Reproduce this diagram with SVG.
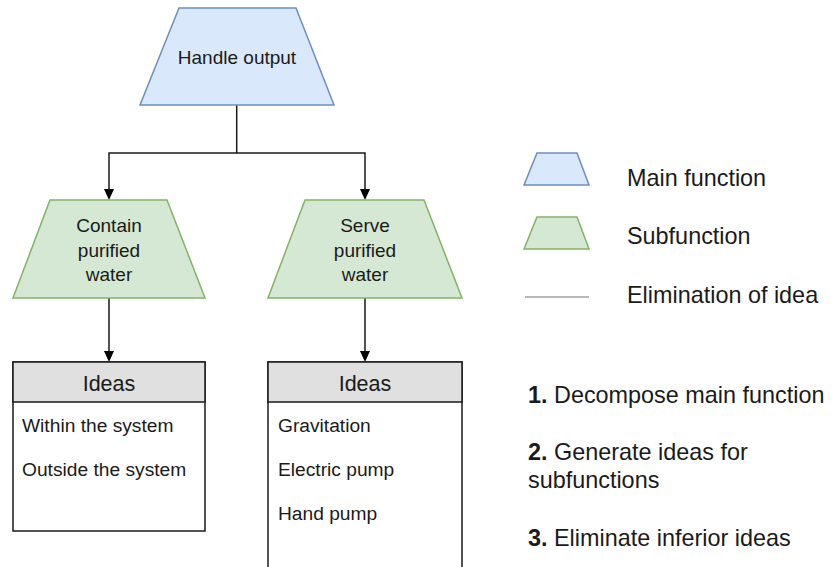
<svg xmlns="http://www.w3.org/2000/svg" width="833" height="567" viewBox="0 0 833 567">
<defs>
<style>
text{font-family:"Liberation Sans",Arial,sans-serif;fill:#1a1a1a}
.node{font-size:19px;text-anchor:middle}
.item{font-size:19.2px}
.hdr{font-size:21.5px;text-anchor:middle}
.leg{font-size:23.4px}
.main{fill:#dae8fc;stroke:#6c8ebf;stroke-width:1.5}
.sub{fill:#d5e8d4;stroke:#82b366;stroke-width:1.5}
.conn{fill:none;stroke:#1a1a1a;stroke-width:1.5}
.box{fill:#ffffff;stroke:#1a1a1a;stroke-width:1.5}
.head{fill:#e0e0e0;stroke:#1a1a1a;stroke-width:1.5}
.tip{fill:#000000}
</style>
</defs>
<rect width="833" height="567" fill="#ffffff"/>
<g id="connectors">
<path class="conn" d="M236.7,105 V153 H109 V190"/>
<path class="conn" d="M236.7,153 H365 V190"/>
<path class="conn" d="M109,298 V352"/>
<path class="conn" d="M365,298 V352"/>
<path class="tip" d="M104,189 L114,189 L109,200 Z"/>
<path class="tip" d="M360,189 L370,189 L365,200 Z"/>
<path class="tip" d="M104,351 L114,351 L109,362 Z"/>
<path class="tip" d="M360,351 L370,351 L365,362 Z"/>
</g>
<g id="handle-output">
<polygon class="main" points="179,8 296,8 334,105 140,105"/>
<text class="node" x="237" y="64">Handle output</text>
</g>
<g id="contain-purified-water">
<polygon class="sub" points="50,200 167,200 205,298 13,298"/>
<text class="node" x="109" y="232">Contain</text>
<text class="node" x="109" y="257">purified</text>
<text class="node" x="109" y="281">water</text>
</g>
<g id="serve-purified-water">
<polygon class="sub" points="305,200 424,200 462,298 268,298"/>
<text class="node" x="365" y="232">Serve</text>
<text class="node" x="365" y="257">purified</text>
<text class="node" x="365" y="281">water</text>
</g>
<g id="ideas-left">
<rect class="box" x="13" y="362" width="192" height="169"/>
<rect class="head" x="13" y="362" width="192" height="40"/>
<text class="hdr" x="109" y="391">Ideas</text>
<text class="item" x="22" y="432">Within the system</text>
<text class="item" x="22" y="476">Outside the system</text>
</g>
<g id="ideas-right">
<rect class="box" x="268" y="362" width="194" height="240"/>
<rect class="head" x="268" y="362" width="194" height="40"/>
<text class="hdr" x="365" y="391">Ideas</text>
<text class="item" x="278" y="432">Gravitation</text>
<text class="item" x="278" y="476">Electric pump</text>
<text class="item" x="278" y="520">Hand pump</text>
</g>
<g id="legend">
<polygon class="main" points="537,153 577,153 589,185 524,185"/>
<text class="leg" x="627" y="186">Main function</text>
<polygon class="sub" points="537,217 577,217 589,249 524,249"/>
<text class="leg" x="627" y="244">Subfunction</text>
<line x1="525" y1="297" x2="589" y2="297" stroke="#a0a0a0" stroke-width="1.5"/>
<text class="leg" x="627" y="303">Elimination of idea</text>
</g>
<g id="steps">
<text class="leg" x="528" y="403"><tspan font-weight="bold">1.</tspan> Decompose main function</text>
<text class="leg" x="528" y="460"><tspan font-weight="bold">2.</tspan> Generate ideas for</text>
<text class="leg" x="528" y="488">subfunctions</text>
<text class="leg" x="528" y="546"><tspan font-weight="bold">3.</tspan> Eliminate inferior ideas</text>
</g>
</svg>
